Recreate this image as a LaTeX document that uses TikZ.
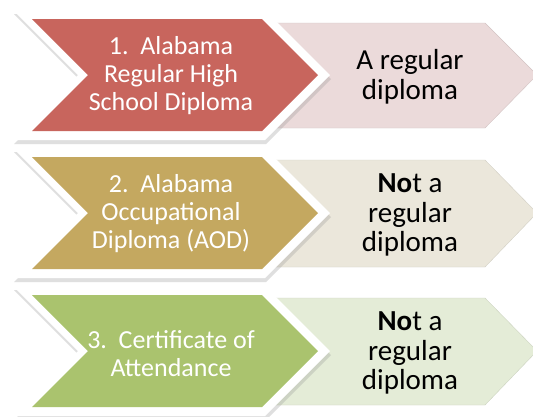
\documentclass[tikz,border=0pt]{standalone}
\usepackage{fontspec}
\setmainfont{Carlito}
\usepackage{xcolor}
\definecolor{redA}{RGB}{200,101,93}
\definecolor{goldA}{RGB}{196,168,96}
\definecolor{greenA}{RGB}{170,195,110}
\definecolor{redB}{RGB}{235,218,218}
\definecolor{goldB}{RGB}{235,231,219}
\definecolor{greenB}{RGB}{228,236,215}
\definecolor{shadowA}{RGB}{150,150,150}

\begin{document}
\begin{tikzpicture}[x=1pt,y=1pt]
\tikzstyle{every node}+=[inner sep=0pt]
\tikzstyle{lefttext}=[text=white,align=center,font=\fontsize{26}{28}\selectfont]
\tikzstyle{righttext}=[text=black,align=center,font=\fontsize{29}{29.5}\selectfont]
\tikzstyle{shade}=[fill=shadowA,opacity=0.3]
\useasboundingbox (0,0) rectangle (533,-416);
\fill [white] (0,0) rectangle (533,-416);
% row 1
\draw [fill=redB,draw=redB!90!black,line width=0.4pt] (270,-23) -- (485,-23) -- (537,-75) -- (485,-128) -- (270,-128) -- cycle;
\fill [shade] (14,-14) -- (266,-14) -- (331,-79) -- (266,-144) -- (14,-144) -- (79,-79) -- cycle;
\fill [white] (13,-10) -- (265,-10) -- (330,-75) -- (265,-140) -- (13,-140) -- (78,-75) -- cycle;
\fill [redA] (32,-19) -- (262,-19) -- (318,-75) -- (262,-131) -- (32,-131) -- (88,-75) -- cycle;
\node [lefttext] (diploma) at (171,-76) {1.\ \ Alabama\\Regular High\\School Diploma};
\node [righttext] (regular) at (410,-77) {A regular\\diploma};
% row 2
\draw [fill=goldB,draw=goldB!90!black,line width=0.4pt] (270,-160) -- (485,-160) -- (537,-213) -- (485,-267) -- (270,-267) -- cycle;
\fill [shade] (14,-152) -- (266,-152) -- (331,-217) -- (266,-282) -- (14,-282) -- (79,-217) -- cycle;
\fill [white] (13,-148) -- (265,-148) -- (330,-213) -- (265,-278) -- (13,-278) -- (78,-213) -- cycle;
\fill [goldA] (32,-157) -- (262,-157) -- (318,-213) -- (262,-269) -- (32,-269) -- (88,-213) -- cycle;
\node [lefttext] (occupational) at (171,-214) {2.\ \ Alabama\\Occupational\\Diploma (AOD)};
\node [righttext] (notregA) at (410,-215) {\textbf{No}t a\\regular\\diploma};
% row 3
\draw [fill=greenB,draw=greenB!90!black,line width=0.4pt] (270,-298) -- (485,-298) -- (537,-351) -- (485,-405) -- (270,-405) -- cycle;
\fill [shade] (14,-290) -- (266,-290) -- (331,-355) -- (266,-420) -- (14,-420) -- (79,-355) -- cycle;
\fill [white] (13,-286) -- (265,-286) -- (330,-351) -- (265,-416) -- (13,-416) -- (78,-351) -- cycle;
\fill [greenA] (32,-295) -- (262,-295) -- (318,-351) -- (262,-407) -- (32,-407) -- (88,-351) -- cycle;
\node [lefttext] (attendance) at (171,-354) {3.\ \ Certificate of\\Attendance};
\node [righttext] (notregB) at (410,-353) {\textbf{No}t a\\regular\\diploma};
\end{tikzpicture}
\end{document}
